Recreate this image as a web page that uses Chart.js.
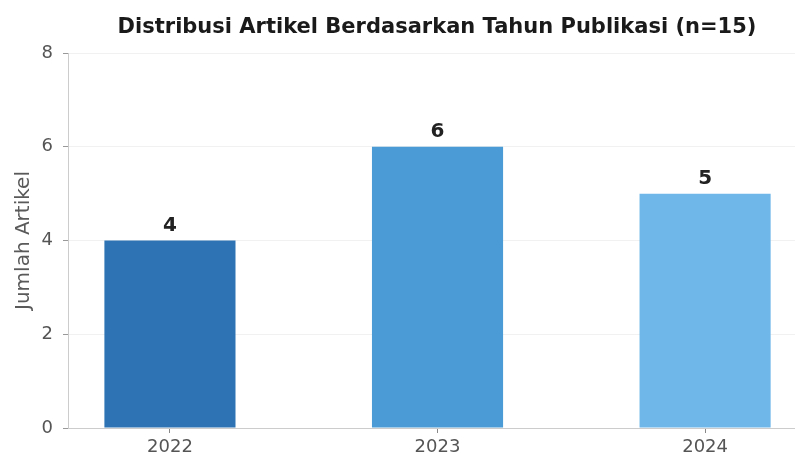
<!DOCTYPE html>
<html>
<head>
<meta charset="utf-8">
<script src="https://cdn.jsdelivr.net/npm/chart.js@4"></script>
<style>
  html, body { margin: 0; padding: 0; background: #fff; overflow: hidden; }
  #wrap { width: 795px; height: 461px; position: relative; }
</style>
</head>
<body>
<div id="wrap"><canvas id="chart"></canvas></div>
<script>
const years = ["2022", "2023", "2024"];
const counts = [4, 6, 5];
const barColors = ["#2e74b5", "#4a9bd6", "#6fb7e9"];
const yTicks = [0, 2, 4, 6, 8];
const chartTitle = "Distribusi Artikel Berdasarkan Tahun Publikasi (n=15)";

const FONT = "'DejaVu Sans', sans-serif";

// bar value labels + title centred over the plot area
const labelsPlugin = {
  id: "labels",
  afterDatasetsDraw(chart) {
    const ctx = chart.ctx;
    const meta = chart.getDatasetMeta(0);
    ctx.save();
    ctx.fillStyle = "#222";
    ctx.font = "bold 20px " + FONT;
    ctx.textAlign = "center";
    ctx.textBaseline = "alphabetic";
    meta.data.forEach((bar, i) => {
      ctx.fillText(String(counts[i]), bar.x, bar.y - 10);
    });
    ctx.font = "bold 21px " + FONT;
    ctx.fillStyle = "#1a1a1a";
    ctx.fillText(chartTitle, 437, 33);
    ctx.restore();
  }
};

var ctx = document.getElementById("chart");
var myChart = new Chart(ctx, {
  type: "bar",
  data: {
    datasets: [
      {
        data: counts.map((v, i) => ({ x: i, y: v })),
        backgroundColor: barColors,
        barPercentage: 0.49,
        categoryPercentage: 1
      }
    ]
  },
  options: {
    responsive: true,
    maintainAspectRatio: false,
    animation: false,
    layout: { padding: { top: 53, left: 0, right: 0, bottom: 0 } },
    plugins: {
      legend: { display: false },
      tooltip: { enabled: false },
      title: { display: false }
    },
    scales: {
      x: {
        type: "linear",
        offset: false,
        min: -0.381,
        max: 2.336,
        afterBuildTicks: s => { s.ticks = years.map((y, i) => ({ value: i })); },
        afterFit: s => { s.height = 33; },
        ticks: {
          callback: (v) => years[v],
          color: "#555",
          font: { family: FONT, size: 18 },
          padding: 4,
          maxRotation: 0
        },
        grid: { offset: false, drawOnChartArea: false, tickColor: "#888", tickLength: 5 },
        border: { color: "#ccc" }
      },
      y: {
        min: 0,
        max: 8,
        afterBuildTicks: s => { s.ticks = yTicks.map(v => ({ value: v })); },
        afterFit: s => { s.width = 68; },
        ticks: {
          color: "#555",
          font: { family: FONT, size: 18 },
          padding: 10
        },
        grid: { color: "#f1f1f1", tickColor: "#999", tickLength: 5 },
        border: { color: "#ccc" },
        title: {
          display: true,
          text: "Jumlah Artikel",
          color: "#5a5a5a",
          font: { family: FONT, size: 20 },
          padding: { top: 12, bottom: 0 }
        }
      }
    }
  },
  plugins: [labelsPlugin]
});
</script>
</body>
</html>
